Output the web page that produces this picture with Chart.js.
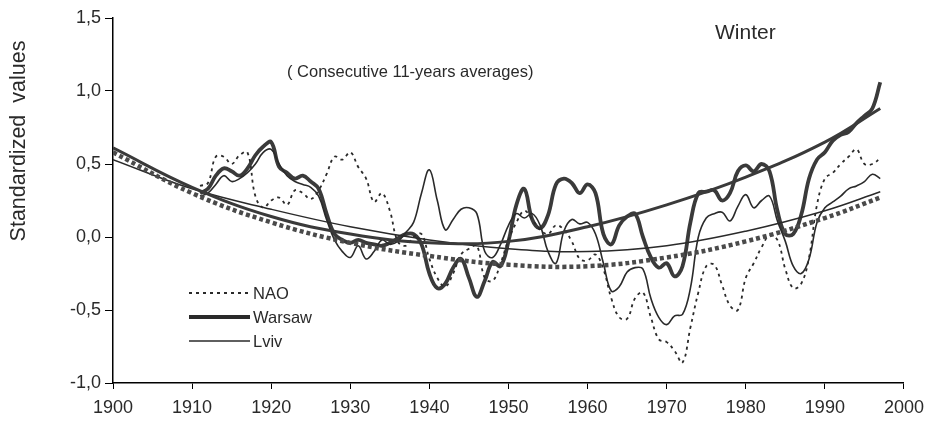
<!DOCTYPE html>
<html>
<head>
<meta charset="utf-8">
<script src="https://cdn.jsdelivr.net/npm/chart.js@4"></script>
<style>
  body { margin: 0; background: #fff; }
  #wrap { width: 932px; height: 422px; }
</style>
</head>
<body>
<div id="wrap"><canvas id="winterChart" width="932" height="422"></canvas></div>
<script>
// 11-year running means, one value per year
const years = [];
for (let y = 1911; y <= 1997; y++) years.push(y);

const nao = [
  0.35, 0.37, 0.55, 0.55, 0.50, 0.56, 0.58, 0.28, 0.20, 0.25,   // 1911-1920
  0.27, 0.22, 0.32, 0.30, 0.26, 0.32, 0.43, 0.55, 0.53, 0.58,   // 1921-1930
  0.48, 0.40, 0.24, 0.30, 0.18, -0.03, -0.06, 0.00, 0.02, -0.15,
  -0.28, -0.34, -0.25, -0.12, -0.08, -0.06, -0.28, -0.30, -0.18, -0.02,
  0.10, 0.18, 0.12, 0.05, 0.02, 0.08, 0.05, -0.03, -0.15, -0.16,
  -0.12, -0.22, -0.42, -0.55, -0.56, -0.42, -0.38, -0.55, -0.70, -0.72,
  -0.78, -0.86, -0.62, -0.38, -0.20, -0.19, -0.33, -0.47, -0.50, -0.28,
  -0.18, -0.07, 0.01, -0.02, -0.22, -0.35, -0.32, -0.14, 0.22, 0.40,
  0.44, 0.50, 0.55, 0.60, 0.50, 0.50, 0.54                         // 1991-1997
];

const warsaw = [
  0.30, 0.33, 0.42, 0.47, 0.45, 0.42, 0.47, 0.56, 0.62, 0.65,
  0.48, 0.44, 0.40, 0.42, 0.38, 0.33, 0.16, 0.02, -0.02, -0.04,
  -0.02, -0.04, -0.05, -0.06, -0.04, -0.01, 0.02, 0.02, -0.05, -0.25,
  -0.35, -0.32, -0.21, -0.15, -0.28, -0.41, -0.30, -0.17, -0.20, -0.03,
  0.22, 0.33, 0.12, 0.06, 0.15, 0.36, 0.40, 0.37, 0.30, 0.36,
  0.30, 0.02, -0.05, 0.08, 0.14, 0.16, 0.00, -0.14, -0.21, -0.18,
  -0.27, -0.20, 0.10, 0.30, 0.31, 0.32, 0.25, 0.30, 0.45, 0.49,
  0.45, 0.50, 0.45, 0.18, 0.02, 0.02, 0.15, 0.40, 0.53, 0.58,
  0.66, 0.70, 0.72, 0.78, 0.83, 0.88, 1.06
];

const lviv = [
  0.28, 0.30, 0.36, 0.42, 0.38, 0.40, 0.44, 0.50, 0.58, 0.60,
  0.50, 0.42, 0.38, 0.36, 0.34, 0.28, 0.12, -0.02, -0.10, -0.14,
  -0.06, -0.15, -0.10, -0.02, -0.05, -0.03, 0.03, 0.10, 0.30, 0.46,
  0.25, 0.05, 0.12, 0.19, 0.20, 0.16, -0.10, -0.14, -0.05, 0.08,
  0.16, 0.13, 0.16, 0.08, -0.10, -0.18, 0.04, 0.12, 0.09, 0.10,
  0.02, -0.18, -0.37, -0.34, -0.24, -0.21, -0.22, -0.42, -0.55, -0.60,
  -0.54, -0.53, -0.35, 0.00, 0.13, 0.16, 0.17, 0.11, 0.21, 0.29,
  0.20, 0.25, 0.28, 0.11, -0.03, -0.20, -0.25, -0.15, 0.10, 0.20,
  0.24, 0.28, 0.33, 0.35, 0.38, 0.43, 0.40
];

const trendYears = [1900, 1910, 1920, 1930, 1940, 1950, 1960, 1970, 1980, 1990, 1997];
const naoTrend = [0.58, 0.30, 0.10, -0.04, -0.13, -0.19, -0.20, -0.14, -0.03, 0.13, 0.27];
const warsawTrend = [0.61, 0.34, 0.14, 0.02, -0.04, -0.03, 0.07, 0.22, 0.41, 0.65, 0.88];
const lvivTrend = [0.53, 0.33, 0.19, 0.07, -0.02, -0.08, -0.10, -0.06, 0.04, 0.18, 0.31];

const yTicks = [-1.0, -0.5, 0.0, 0.5, 1.0, 1.5];

const FONT = "'Liberation Sans', Arial, sans-serif";
const INK = "#2a2a2a";

const pts = (xs, ys) => xs.map((x, i) => ({ x: x, y: ys[i] }));

// texts and the hand-drawn legend of the original figure
const decorations = {
  id: "decorations",
  afterDraw(chart) {
    const c = chart.ctx;
    c.save();
    c.fillStyle = INK;
    c.textBaseline = "middle";

    c.font = "21px " + FONT;
    c.textAlign = "left";
    c.fillText("Winter", 715, 33);

    c.font = "16.5px " + FONT;
    c.fillText("( Consecutive 11-years averages)", 287, 72);

    // axis title
    c.save();
    c.translate(19, 141);
    c.rotate(-Math.PI / 2);
    c.textAlign = "center";
    c.font = "21.5px " + FONT;
    c.fillText("Standardized  values", 0, 0);
    c.restore();

    // legend
    const rows = [
      { label: "NAO", y: 293, width: 1.8, dash: [3, 4] },
      { label: "Warsaw", y: 317, width: 4, dash: [] },
      { label: "Lviv", y: 341, width: 1.6, dash: [] }
    ];
    c.font = "16.5px " + FONT;
    rows.forEach(r => {
      c.strokeStyle = INK;
      c.lineWidth = r.width;
      c.setLineDash(r.dash);
      c.beginPath();
      c.moveTo(189, r.y);
      c.lineTo(250, r.y);
      c.stroke();
      c.fillText(r.label, 253, r.y + 1);
    });
    c.restore();
  }
};

const ctx = document.getElementById("winterChart").getContext("2d");
const winterChart = new Chart(ctx, {
  type: "line",
  data: {
    datasets: [
      {
        label: "NAO trend",
        data: pts(trendYears, naoTrend),
        borderColor: "#4a4a4a",
        borderWidth: 4.5,
        borderDash: [4, 3],
        tension: 0.4
      },
      {
        label: "Warsaw trend",
        data: pts(trendYears, warsawTrend),
        borderColor: "#3a3a3a",
        borderWidth: 3,
        tension: 0.4
      },
      {
        label: "Lviv trend",
        data: pts(trendYears, lvivTrend),
        borderColor: INK,
        borderWidth: 1.5,
        tension: 0.4
      },
      {
        label: "NAO",
        data: pts(years, nao),
        borderColor: INK,
        borderWidth: 1.8,
        borderDash: [3, 4],
        tension: 0.4
      },
      {
        label: "Lviv",
        data: pts(years, lviv),
        borderColor: INK,
        borderWidth: 1.6,
        tension: 0.4
      },
      {
        label: "Warsaw",
        data: pts(years, warsaw),
        borderColor: "#3a3a3a",
        borderWidth: 3.8,
        tension: 0.4
      }
    ]
  },
  options: {
    responsive: false,
    animation: false,
    events: [],
    layout: { padding: { left: 10, right: 23, top: 18, bottom: 0 } },
    elements: { point: { radius: 0 } },
    plugins: {
      legend: { display: false },
      tooltip: { enabled: false }
    },
    scales: {
      x: {
        type: "linear",
        min: 1900,
        max: 2000,
        afterFit: (scale) => { scale.height = 39; },
        grid: { drawOnChartArea: false, drawTicks: true, tickLength: 6, color: "#000" },
        border: { display: true, color: "#000", width: 1.5 },
        ticks: {
          stepSize: 10,
          padding: 8,
          color: INK,
          maxRotation: 0,
          font: { family: FONT, size: 18 },
          callback: (v) => String(v)
        }
      },
      y: {
        min: -1.0,
        max: 1.5,
        afterFit: (scale) => { scale.width = 103; },
        afterBuildTicks: (scale) => { scale.ticks = yTicks.map(v => ({ value: v })); },
        grid: { drawOnChartArea: false, drawTicks: true, tickLength: 8, color: "#000" },
        border: { display: true, color: "#000", width: 1.5 },
        ticks: {
          padding: 4,
          color: INK,
          font: { family: FONT, size: 18 },
          callback: (v) => v.toFixed(1).replace(".", ",")
        }
      }
    }
  },
  plugins: [decorations]
});
</script>
</body>
</html>
